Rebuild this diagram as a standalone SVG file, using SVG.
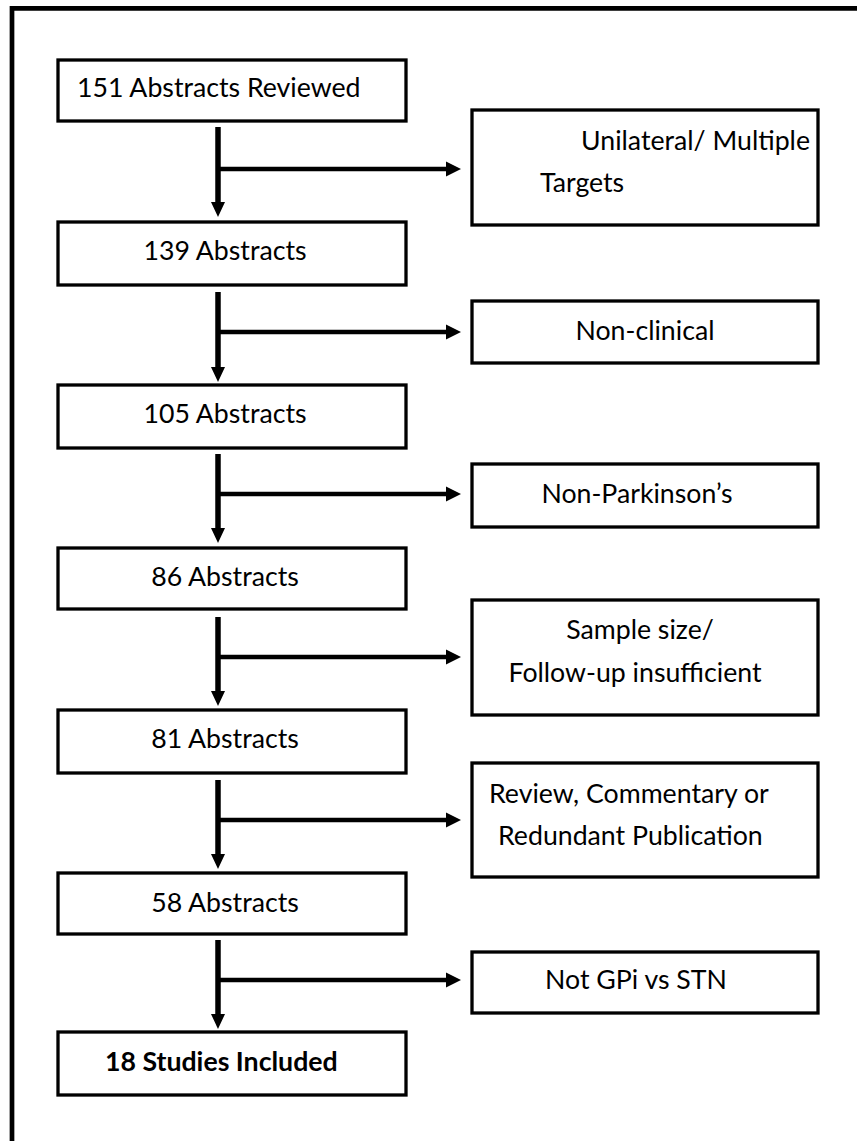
<svg xmlns="http://www.w3.org/2000/svg" width="857" height="1141" viewBox="0 0 857 1141">
<style>
.box{fill:#fff;stroke:#000;stroke-width:3.3}
.t{font-family:Lato,"Liberation Sans",sans-serif;font-size:26.7px;fill:#000}
.c{text-anchor:middle}
.b{font-weight:bold}
.v{stroke:#000;stroke-width:5.5;fill:none}
.h{stroke:#000;stroke-width:4.5;fill:none}
.head{fill:#000;stroke:none}
.frame{stroke:#000;stroke-width:4.7;fill:none}
</style>
<rect width="857" height="1141" fill="#fff"/>
<path class="frame" d="M12,1141 V8.3 H857"/>
<g id="n1"><rect class="box" x="58" y="60" width="348" height="61"/><text class="t" x="77" y="97">151 Abstracts Reviewed</text></g>
<g id="n2"><rect class="box" x="58" y="222" width="348" height="63"/><text class="t c" x="225" y="260">139 Abstracts</text></g>
<g id="n3"><rect class="box" x="58" y="385" width="348" height="63"/><text class="t c" x="225" y="423">105 Abstracts</text></g>
<g id="n4"><rect class="box" x="58" y="548" width="348" height="61"/><text class="t c" x="225" y="586">86 Abstracts</text></g>
<g id="n5"><rect class="box" x="58" y="710" width="348" height="63"/><text class="t c" x="225" y="748">81 Abstracts</text></g>
<g id="n6"><rect class="box" x="58" y="873" width="348" height="61"/><text class="t c" x="225" y="912">58 Abstracts</text></g>
<g id="n7"><rect class="box" x="58" y="1032" width="348" height="63"/><text class="t b" x="105" y="1071">18 Studies Included</text></g>
<g id="e1"><rect class="box" x="472" y="110" width="346" height="115"/><text class="t" x="810" y="150" text-anchor="end">Unilateral/ Multiple</text><text class="t" x="540" y="192">Targets</text></g>
<g id="e2"><rect class="box" x="472" y="301" width="346" height="62"/><text class="t c" x="645" y="340">Non-clinical</text></g>
<g id="e3"><rect class="box" x="472" y="464" width="346" height="63"/><text class="t c" x="637" y="503">Non-Parkinson’s</text></g>
<g id="e4"><rect class="box" x="472" y="600" width="346" height="115"/><text class="t c" x="640" y="639">Sample size/</text><text class="t c" x="635" y="682">Follow-up insufficient</text></g>
<g id="e5"><rect class="box" x="472" y="763" width="346" height="114"/><text class="t" x="489" y="803">Review, Commentary or</text><text class="t" x="498" y="845">Redundant Publication</text></g>
<g id="e6"><rect class="box" x="472" y="952" width="346" height="61"/><text class="t c" x="636" y="989">Not GPi vs STN</text></g>
<g id="connectors">
<g id="c1"><path class="v" d="M218,127 V203"/><path class="h" d="M218,169 H447"/><polygon class="head" points="211,202 225,202 218,217"/><polygon class="head" points="446,161.5 446,176.5 461,169"/></g>
<g id="c2"><path class="v" d="M218,292 V368"/><path class="h" d="M218,332 H447"/><polygon class="head" points="211,367 225,367 218,382"/><polygon class="head" points="446,324.5 446,339.5 461,332"/></g>
<g id="c3"><path class="v" d="M218,454 V529"/><path class="h" d="M218,494 H447"/><polygon class="head" points="211,528 225,528 218,543"/><polygon class="head" points="446,486.5 446,501.5 461,494"/></g>
<g id="c4"><path class="v" d="M218,617 V692"/><path class="h" d="M218,657 H447"/><polygon class="head" points="211,691 225,691 218,706"/><polygon class="head" points="446,649.5 446,664.5 461,657"/></g>
<g id="c5"><path class="v" d="M218,780 V855"/><path class="h" d="M218,820 H447"/><polygon class="head" points="211,854 225,854 218,869"/><polygon class="head" points="446,812.5 446,827.5 461,820"/></g>
<g id="c6"><path class="v" d="M218,940 V1015"/><path class="h" d="M218,980 H447"/><polygon class="head" points="211,1014 225,1014 218,1029"/><polygon class="head" points="446,972.5 446,987.5 461,980"/></g>
</g>
</svg>
